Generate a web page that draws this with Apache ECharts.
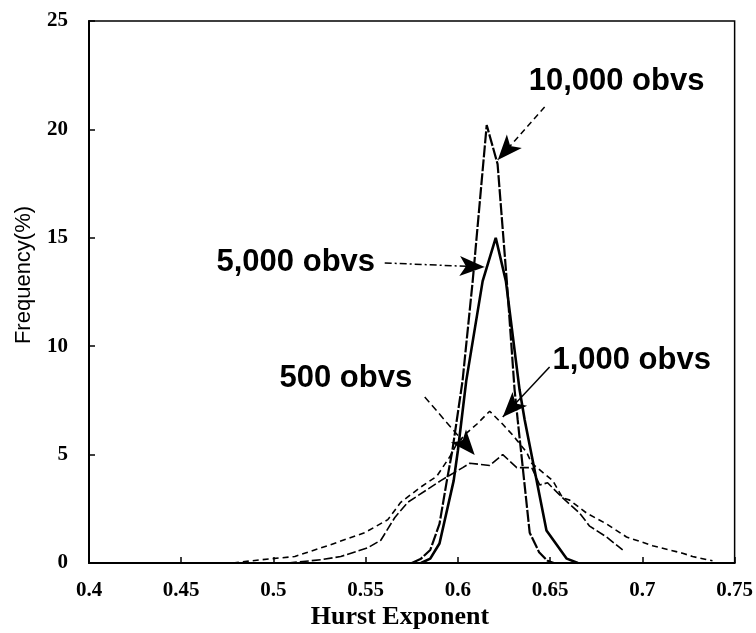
<!DOCTYPE html>
<html><head><meta charset="utf-8">
<script src="https://cdn.jsdelivr.net/npm/echarts@6/dist/echarts.min.js"></script>
<style>html,body{margin:0;padding:0;background:#fff}#c{width:756px;height:633px}</style>
</head><body><div id="c"></div>
<script>
// ---- data ----
const hurst10000 = [0.575,0.58,0.585,0.59,0.594,0.597,0.6025,0.608,0.6156,0.6215,0.6265,0.6307,0.6324,0.6389,0.644,0.6486,0.652];
const freq10000  = [0,0.2,0.6,1.8,3.8,5.2,8.4,13,20.2,18.4,13,8,6.6,1.4,0.5,0.1,0];
const hurst5000 = [0.58,0.585,0.59,0.5977,0.6,0.6045,0.6134,0.6205,0.626,0.6334,0.6362,0.648,0.659,0.665];
const freq5000  = [0,0.2,0.9,3.8,5.2,8.4,13,15,13,8,6.6,1.5,0.2,0];
const hurst1000 = [0.478,0.4932,0.5116,0.5295,0.5495,0.562,0.569,0.5798,0.5885,0.5956,0.5994,0.6048,0.6102,0.6172,0.6243,0.6297,0.6373,0.64,0.6514,0.6568,0.6606,0.6698,0.6806,0.6914,0.7055,0.7218,0.7272,0.738];
const freq1000  = [0,0.15,0.3,0.8,1.4,2.0,2.8,3.5,4.0,4.9,5.5,6.0,6.4,7.0,6.4,5.9,5.1,4.6,3.8,3.0,2.9,2.3,1.8,1.2,0.8,0.45,0.3,0.1];
const hurst500 = [0.5078,0.5257,0.5365,0.5511,0.5582,0.5658,0.5728,0.5907,0.6026,0.6064,0.6172,0.6243,0.6319,0.64,0.6443,0.6486,0.6568,0.666,0.6714,0.6806,0.6893];
const freq500  = [0,0.15,0.3,0.7,1.05,2.1,2.8,3.8,4.4,4.6,4.5,5.0,4.4,4.4,3.6,3.7,3.0,2.3,1.7,1.2,0.6];
const seriesNames = ['10,000 obvs','5,000 obvs','1,000 obvs','500 obvs'];
const xTicks = [0.4,0.45,0.5,0.55,0.6,0.65,0.7,0.75];
const yTicks = [0,5,10,15,20,25];
const xTitle = 'Hurst Exponent';
const yTitle = 'Frequency(%)';

// ---- annotation layout (data coordinates) ----
const annotLayout = [
  {text:[0.686,22.19], from:[0.647,21.03], to:[0.6216,18.59], dash:[6,4]},
  {text:[0.5121,13.84], from:[0.5603,13.84], to:[0.6145,13.65], dash:[7,3,2,3]},
  {text:[0.6942,9.36], from:[0.6497,9.04], to:[0.6243,6.73], dash:'solid'},
  {text:[0.5392,8.53], from:[0.582,7.66], to:[0.6091,4.98], dash:[7,4]}
];
const lineStyles = [
  {width:2.2, type:[12,2]},
  {width:2.6, type:'solid'},
  {width:1.6, type:[6,4]},
  {width:1.6, type:[9,3]}
];

const xs = [hurst10000,hurst5000,hurst1000,hurst500];
const ys = [freq10000,freq5000,freq1000,freq500];
const zip = (a,b)=>a.map((v,i)=>[v,b[i]]);

const chart = echarts.init(document.getElementById('c'));
const series = seriesNames.map((n,i)=>({
  name:n, type:'line', data:zip(xs[i],ys[i]), showSymbol:false, smooth:false,
  lineStyle:{color:'#000', width:lineStyles[i].width, type:lineStyles[i].type},
  z: 3,
  markLine:{
    silent:true, animation:false,
    symbol:['none','arrow'], symbolSize:[15,25],
    label:{show:false},
    lineStyle:{color:'#000', width:1.5, type:annotLayout[i].dash},
    data:[[{coord:annotLayout[i].from},{coord:annotLayout[i].to}]]
  },
  markPoint:{
    silent:true, animation:false,
    data:[{coord:annotLayout[i].text, symbol:'circle', symbolSize:1, itemStyle:{color:'rgba(0,0,0,0)'},
      label:{show:true, position:'inside', formatter:n, color:'#000',
        fontFamily:'Liberation Sans, Arial, sans-serif', fontWeight:'bold', fontSize:31}}]
  }
}));

chart.setOption({
  animation:false,
  backgroundColor:'#fff',
  grid:{left:89, right:21, top:21, bottom:70, show:true, borderColor:'#000', borderWidth:1.5, backgroundColor:'transparent'},
  xAxis:{type:'value', min:xTicks[0], max:xTicks[xTicks.length-1], interval:0.05,
    axisLine:{show:true, onZero:false, lineStyle:{color:'#000', width:2}},
    axisTick:{show:true, inside:true, length:6, lineStyle:{color:'#000', width:1.5}},
    splitLine:{show:false},
    axisLabel:{margin:17, color:'#000', fontFamily:'Liberation Serif, Times New Roman, serif', fontWeight:'bold', fontSize:21,
      formatter:v=>String(+v.toFixed(2))}},
  yAxis:{type:'value', min:yTicks[0], max:yTicks[yTicks.length-1], interval:5,
    axisLine:{show:true, onZero:false, lineStyle:{color:'#000', width:2}},
    axisTick:{show:true, inside:true, length:6, lineStyle:{color:'#000', width:1.5}},
    splitLine:{show:false},
    axisLabel:{margin:21, color:'#000', fontFamily:'Liberation Serif, Times New Roman, serif', fontWeight:'bold', fontSize:21}},
  graphic:[
    {type:'text', x:400, y:617, style:{text:xTitle, align:'center', verticalAlign:'middle',
      font:'bold 26px "Liberation Serif", "Times New Roman", serif', fill:'#000'}},
    {type:'text', x:24, y:275, rotation:Math.PI/2, style:{text:yTitle, align:'center', verticalAlign:'middle',
      font:'normal 22px "Liberation Sans", Arial, sans-serif', fill:'#000'}}
  ],
  series:series
});
</script></body></html>
